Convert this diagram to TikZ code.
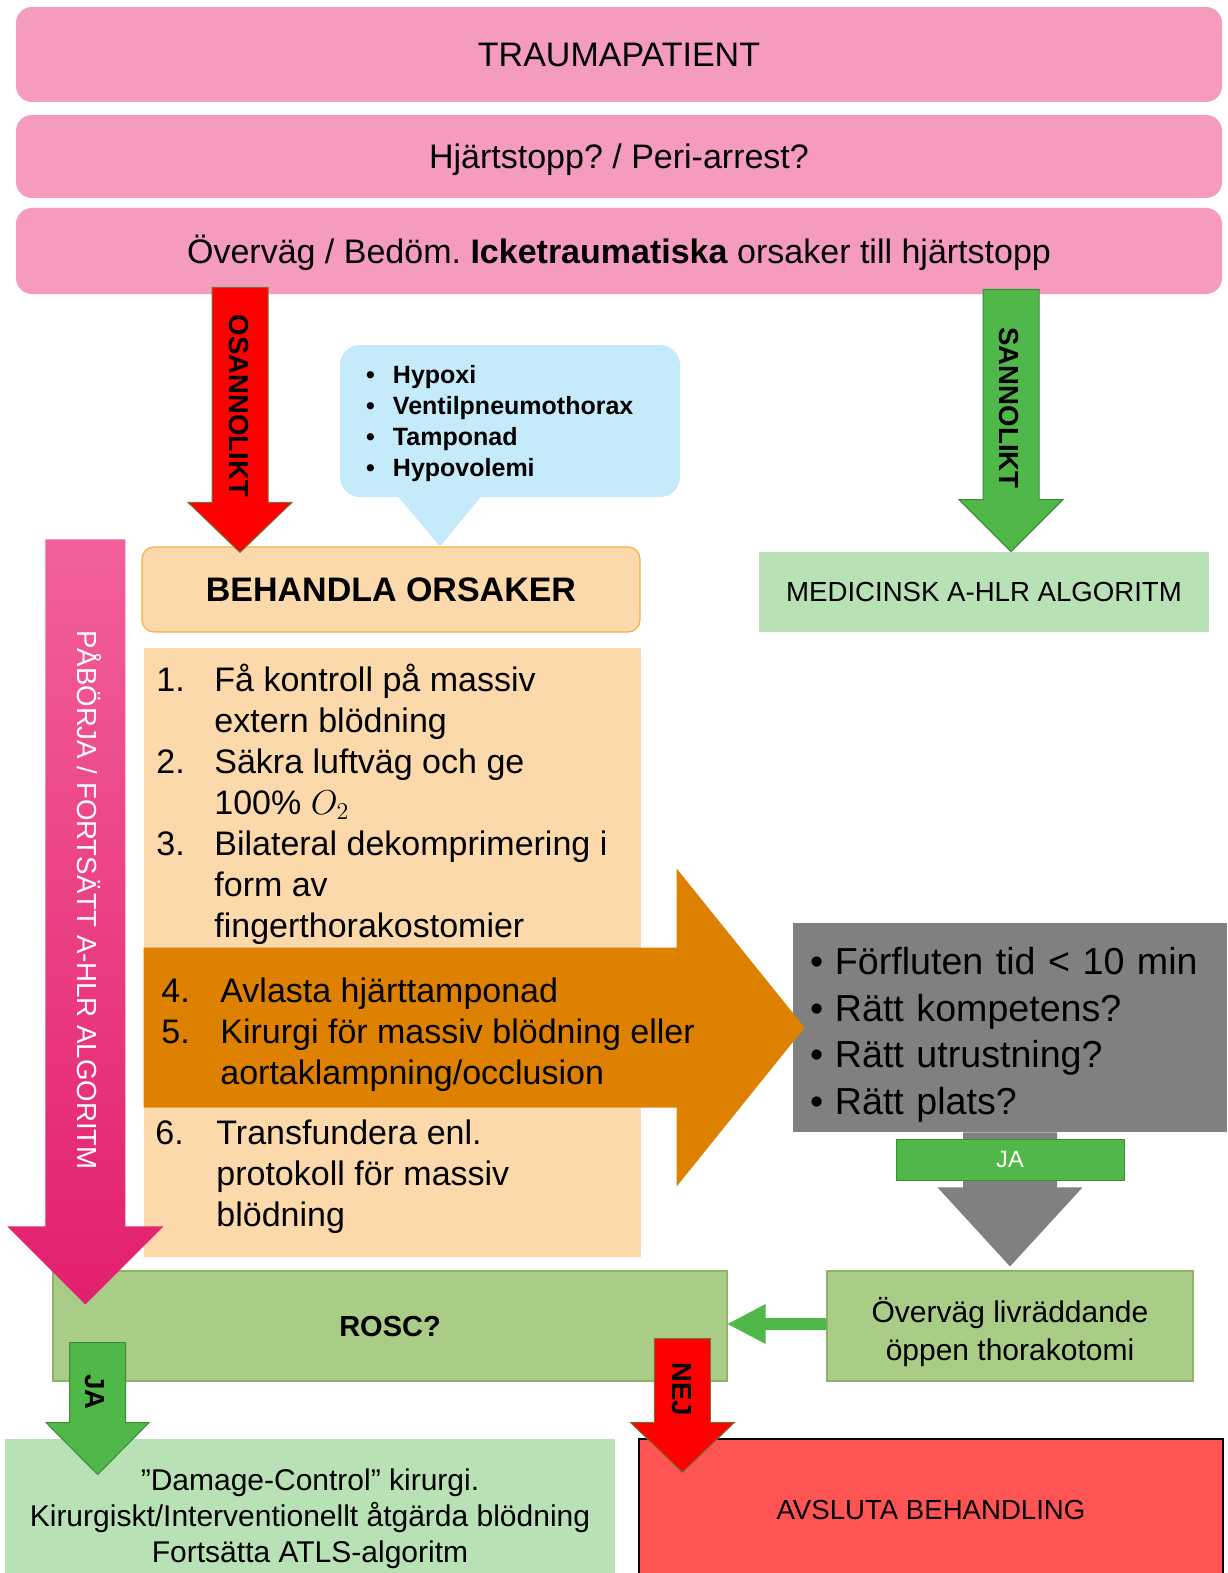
\documentclass[tikz,border=0pt]{standalone}
\usepackage{fontspec}
\setmainfont{Liberation Sans}
\usepackage{tikz}
\usetikzlibrary{calc}
\frenchspacing
\definecolor{pinktop}{HTML}{F59BBE}
\definecolor{redflow}{HTML}{FF0000}
\definecolor{redrim}{HTML}{6E7434}
\definecolor{greenflow}{HTML}{50B848}
\definecolor{greenrim}{HTML}{3C8C38}
\definecolor{skyblue}{HTML}{C5EBFB}
\definecolor{peach}{HTML}{FCD9AA}
\definecolor{peachrim}{HTML}{F8AE45}
\definecolor{orangeflow}{HTML}{DF8100}
\definecolor{grayflow}{HTML}{808080}
\definecolor{mintgreen}{HTML}{B9E1B6}
\definecolor{olivegreen}{HTML}{A9CC86}
\definecolor{oliverim}{HTML}{8CB368}
\definecolor{stopred}{HTML}{FF5454}
\definecolor{pinkhigh}{HTML}{F2609A}
\definecolor{pinklow}{HTML}{E31F6E}

\newcommand{\blt}[1]{\makebox[#1][l]{•}}

\tikzset{
  fat/.style n args={3}{to path={
    ($(\tikztostart)!#1!90:(\tikztotarget)$)
    -- ($(\tikztotarget)!#3!(\tikztostart)!#1!90:(\tikztotarget)$)
    -- ($(\tikztotarget)!#3!(\tikztostart)!#2!90:(\tikztotarget)$)
    -- (\tikztotarget)
    -- ($(\tikztotarget)!#3!(\tikztostart)!#2!-90:(\tikztotarget)$)
    -- ($(\tikztotarget)!#3!(\tikztostart)!#1!-90:(\tikztotarget)$)
    -- ($(\tikztostart)!#1!-90:(\tikztotarget)$)
    -- cycle}},
  redarrow/.style={fill=redflow, draw=redrim, line width=0.5pt},
  greenarrow/.style={fill=greenflow, draw=greenrim, line width=0.5pt},
  topbox/.style={fill=pinktop, rounded corners=8pt, minimum width=603pt, inner sep=0pt,
    text height=12.2pt, text depth=0pt, font=\fontsize{17}{20}\selectfont},
  bubble/.style={fill=skyblue, rounded corners=10pt, minimum width=170pt, minimum height=76pt,
    text width=144pt, inner xsep=13pt, align=left, text height=10pt, text depth=48pt,
    font=\fontsize{12.5}{15.5}\selectfont\bfseries},
  peachbox/.style={fill=peach, draw=peachrim, line width=0.6pt, rounded corners=6pt},
  mintbox/.style={fill=mintgreen, inner sep=0pt},
  olivebox/.style={fill=olivegreen, draw=oliverim, line width=0.6pt, inner sep=0pt},
  graybox/.style={fill=grayflow, minimum width=217pt, minimum height=104.5pt, text width=200pt,
    inner xsep=8.5pt, align=left, text height=14pt, text depth=67pt, font=\fontsize{18.8}{23.3}\selectfont},
  jabox/.style={fill=greenflow, draw=greenrim, line width=0.5pt, minimum width=114pt, minimum height=20.5pt,
    inner sep=0pt, text=white, text height=8.4pt, text depth=0pt, font=\fontsize{11.8}{13}\selectfont},
  flowlabel/.style={rotate=-90, inner sep=0pt, text height=9.9pt, text depth=0pt,
    font=\fontsize{13.8}{16}\selectfont\bfseries},
  steptext/.style={anchor=base west, inner sep=0pt, font=\fontsize{17}{20.5}\selectfont}
}

\begin{document}
\begin{tikzpicture}[x=0.5pt, y=-0.5pt]
\path[use as bounding box, fill=white] (0,0) rectangle (1227,1573);

\node[topbox, minimum height=47.5pt] (trauma) at (619,54.5) {TRAUMAPATIENT};
\node[topbox, minimum height=41.5pt] (arrest) at (619,156.5) {Hjärtstopp? / Peri-arrest?};
\node[topbox, minimum height=43pt] (nontrauma) at (619,251) {Överväg / Bedöm. \textbf{Icketraumatiska} orsaker till hjärtstopp};

\node[bubble] (causes) at (510,421) {\blt{13.5pt}Hypoxi\\\blt{13.5pt}Ventilpneumothorax\\\blt{13.5pt}Tamponad\\\blt{13.5pt}Hypovolemi};
\node[peachbox, minimum width=249pt, minimum height=42.5pt, text height=12.2pt, text depth=0pt,
  font=\fontsize{17}{20}\selectfont\bfseries] (behandla) at (391,589.5) {BEHANDLA ORSAKER};
\fill[skyblue] ([xshift=-56.5pt,yshift=1pt]causes.south) -- ([xshift=-14pt,yshift=1pt]causes.south)
  -- ([xshift=24.5pt]behandla.north) -- cycle;

\node[mintbox, minimum width=225pt, minimum height=40pt, text height=9.9pt, text depth=0pt,
  font=\fontsize{13.8}{16}\selectfont] (medical) at (984,592) {MEDICINSK A-HLR ALGORITM};

\coordinate (unlikelyTip) at ([xshift=-75.5pt,yshift=-3pt]behandla.north);
\draw[redarrow, fat={14pt}{26pt}{25pt}] ($(unlikelyTip |- nontrauma.south)+(0,-7)$) to (unlikelyTip);
\node[flowlabel] (unlikelyText) at (239,406) {OSANNOLIKT};

\coordinate (likelyTip) at ([xshift=13.5pt]medical.north);
\draw[greenarrow, fat={14pt}{26pt}{26pt}] ($(likelyTip |- nontrauma.south)+(0,-5)$) to (likelyTip);
\node[flowlabel] (likelyText) at (1009,408) {SANNOLIKT};

\node[fill=peach, minimum width=248.5pt, minimum height=304.5pt, inner sep=0pt] (steps) at (392.5,952.5) {};
\node[steptext] (stepsTop) at (156,691) {\begin{tabular}[t]{@{}l@{}l@{}}
  \makebox[29pt][l]{1.} & Få kontroll på massiv\\
   & extern blödning\\
  \makebox[29pt][l]{2.} & Säkra luftväg och ge\\
   & 100\% $O_2$\\
  \makebox[29pt][l]{3.} & Bilateral dekomprimering i\\
   & form av\\
   & fingerthorakostomier
  \end{tabular}};

\node[graybox] (checks) at (1010,1027.5) {\blt{12.5pt}Förfluten tid < 10 min\\\blt{12.5pt}Rätt kompetens?\\\blt{12.5pt}Rätt utrustning?\\\blt{12.5pt}Rätt plats?};
\path[fill=orangeflow, fat={40pt}{79.5pt}{64pt}] (steps.west |- checks.west) to ([xshift=6pt]checks.west);

\node[steptext] (stepsMid) at (161,1002) {\begin{tabular}[t]{@{}l@{}l@{}}
  \makebox[29.5pt][l]{4.} & Avlasta hjärttamponad\\
  \makebox[29.5pt][l]{5.} & Kirurgi för massiv blödning eller\\
   & aortaklampning/occlusion
  \end{tabular}};
\node[steptext] (stepsLow) at (155,1144) {\begin{tabular}[t]{@{}l@{}l@{}}
  \makebox[30.5pt][l]{6.} & Transfundera enl.\\
   & protokoll för massiv\\
   & blödning
  \end{tabular}};

\node[olivebox, minimum width=183pt, minimum height=55pt, align=center, text height=38pt, text depth=4pt,
  font=\fontsize{15}{19}\selectfont] (thor) at (1010,1326) {Överväg livräddande\\öppen thorakotomi};
\node[olivebox, minimum width=337pt, minimum height=55pt, text height=10.4pt, text depth=0pt,
  font=\fontsize{14.5}{17}\selectfont\bfseries] (rosc) at (390,1326) {ROSC?};

\path[fill=grayflow, fat={23.5pt}{36.25pt}{39.5pt}] (thor.north |- checks.south) to ([yshift=2pt]thor.north);
\node[jabox] (yesBox) at (1010,1159.5) {JA};

\path[fill=greenflow, fat={3pt}{10pt}{19pt}] ([yshift=1pt]thor.west) to ([yshift=1pt]rosc.east);

\node[mintbox, minimum width=305pt, minimum height=80pt, align=center,
  font=\fontsize{15}{18}\selectfont] (damage) at (310,1519) {”Damage-Control” kirurgi.\\Kirurgiskt/Interventionellt åtgärda blödning\\Fortsätta ATLS-algoritm};
\node[fill=stopred, draw=black, line width=0.6pt, minimum width=292pt, minimum height=70.5pt, inner sep=0pt,
  text height=9.9pt, text depth=0pt, font=\fontsize{13.8}{16}\selectfont] (stop) at (931,1509.5) {AVSLUTA BEHANDLING};

\coordinate (cprTip) at ([xshift=16.5pt,yshift=-17pt]rosc.north west);
\path[top color=pinkhigh, bottom color=pinklow, fat={20pt}{39pt}{39pt}] ($(cprTip |- behandla.north)+(0,-7)$) to (cprTip);
\node[flowlabel, text=white, font=\fontsize{13.8}{16}\selectfont] (cprText) at (87,900) {PÅBÖRJA / FORTSÄTT A-HLR ALGORITM};

\coordinate (yesTip) at ([xshift=46.5pt,yshift=-18pt]damage.north west);
\draw[greenarrow, fat={14pt}{25.75pt}{26pt}] ($(yesTip |- rosc.south)+(0,-39)$) to (yesTip);
\node[flowlabel] (yesText) at (95,1392) {JA};

\coordinate (noTip) at ([xshift=22pt,yshift=-17pt]stop.north west);
\draw[redarrow, fat={14pt}{26pt}{25pt}] ($(noTip |- rosc.south)+(0,-43)$) to (noTip);
\node[flowlabel] (noText) at (682,1389) {NEJ};
\end{tikzpicture}
\end{document}
